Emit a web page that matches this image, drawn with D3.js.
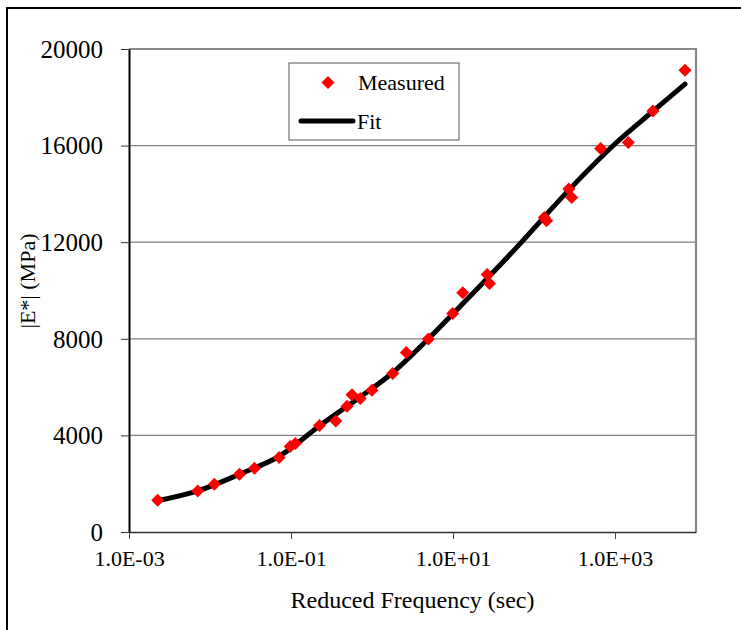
<!DOCTYPE html>
<html><head><meta charset="utf-8">
<script src="https://cdn.jsdelivr.net/npm/d3@7"></script>
</head><body style="margin:0">
<svg id="c" width="741" height="630" style="display:block;font-family:'Times New Roman',Tinos,'Liberation Serif',serif"></svg>
<script>
// Measured data: reduced frequency (sec) and |E*| (MPa)
const measuredFreq = [0.00226, 0.00706, 0.0113, 0.0231, 0.0354, 0.0714, 0.0977, 0.113, 0.225, 0.357, 0.491, 0.566, 0.716, 1.0, 1.80, 2.65, 4.97, 9.91, 13.2, 26.4, 28.2, 134, 143, 269, 292, 664, 1459, 2938, 7311];
const measuredModulus = [1313, 1699, 1976, 2391, 2639, 3082, 3538, 3662, 4408, 4595, 5208, 5684, 5527, 5871, 6563, 7433, 7996, 9048, 9910, 10664, 10291, 13020, 12890, 14198, 13846, 15884, 16133, 17430, 19116];
// Fit curve
const fitFreq = [0.00226, 0.00706, 0.0231, 0.0715, 0.2296, 0.716, 1.766, 4.97, 10.2, 26.4, 64.9, 269, 1067, 2891, 7311];
const fitModulus = [1293, 1699, 2391, 3136, 4421, 5593, 6575, 8004, 9073, 10498, 11880, 14157, 16158, 17401, 18548];
const xTicks = [1e-3, 1e-1, 1e1, 1e3];
const yTicks = [0, 4000, 8000, 12000, 16000, 20000];
const legendLabels = ["Measured", "Fit"];

const FAM = "Times New Roman";
const svg = d3.select("#c");
const L = 129, R = 696, T = 49, B = 532;
const x = d3.scaleLog().domain([1e-3, 1e4]).range([L, R]);
const y = d3.scaleLinear().domain([0, 20000]).range([B, T]);

// outer border
svg.append("rect").attr("x", 7).attr("y", 8).attr("width", 760).attr("height", 640)
  .attr("fill", "none").attr("stroke", "#000").attr("stroke-width", 2);

// gridlines
svg.append("g").selectAll("line").data(yTicks.filter(v => v > 0 && v < 20000)).join("line")
  .attr("x1", L).attr("x2", R).attr("y1", d => y(d)).attr("y2", d => y(d))
  .attr("stroke", "#808080").attr("stroke-width", 1.2);

// plot frame top/right
svg.append("path").attr("d", `M${L},${T}H${R}V${B}`).attr("fill", "none")
  .attr("stroke", "#888").attr("stroke-width", 2.2);

const fmt = v => {
  const e = Math.round(Math.log10(v));
  return "1.0E" + (e < 0 ? "-" : "+") + String(Math.abs(e)).padStart(2, "0");
};

// x axis
const xAxis = svg.append("g").attr("transform", `translate(0,${B})`)
  .call(d3.axisBottom(x).tickValues(xTicks).tickFormat(fmt).tickSize(7).tickSizeOuter(0))
  .attr("font-family", null).attr("font-size", null);
xAxis.select(".domain").attr("stroke", "#333").attr("stroke-width", 1.6);
xAxis.selectAll(".tick line").attr("stroke", "#444");
xAxis.selectAll("text").style("font-family", FAM).attr("font-size", 22).attr("fill", "#000").attr("dy", null).attr("y", 34);

// y axis
const yAxis = svg.append("g").attr("transform", `translate(${L},0)`)
  .call(d3.axisLeft(y).tickValues(yTicks).tickFormat(d3.format("d")).tickSize(8).tickSizeOuter(0))
  .attr("font-family", null).attr("font-size", null);
yAxis.select(".domain").attr("stroke", "#000").attr("stroke-width", 2);
yAxis.selectAll(".tick line").attr("stroke", "#333");
yAxis.selectAll("text").style("font-family", FAM).attr("font-size", 25).attr("fill", "#000").attr("x", -26).attr("dy", "0.33em");

// fit line
const pts = fitFreq.map((f, i) => [f, fitModulus[i]]);
svg.append("path").datum(pts)
  .attr("d", d3.line().x(d => x(d[0])).y(d => y(d[1])).curve(d3.curveCatmullRom))
  .attr("fill", "none").attr("stroke", "#000").attr("stroke-width", 5).attr("stroke-linecap", "round");

// markers
const diamond = "M0,-6.5L6.5,0L0,6.5L-6.5,0Z";
svg.append("g").selectAll("path").data(measuredFreq.map((f, i) => [f, measuredModulus[i]])).join("path")
  .attr("d", diamond).attr("transform", d => `translate(${x(d[0])},${y(d[1])})`).attr("fill", "#ff0000");

// legend
const lg = svg.append("g");
lg.append("rect").attr("x", 289).attr("y", 63).attr("width", 170).attr("height", 77)
  .attr("fill", "#fff").attr("stroke", "#555").attr("stroke-width", 1);
lg.append("path").attr("d", diamond).attr("transform", "translate(328,82.5)").attr("fill", "#ff0000");
lg.append("text").attr("x", 358).attr("y", 90).style("font-family", FAM).attr("font-size", 22).text(legendLabels[0]);
lg.append("line").attr("x1", 301).attr("x2", 353).attr("y1", 121).attr("y2", 121)
  .attr("stroke", "#000").attr("stroke-width", 5).attr("stroke-linecap", "round");
lg.append("text").attr("x", 357).attr("y", 129).style("font-family", FAM).attr("font-size", 22).text(legendLabels[1]);

// axis titles
svg.append("text").attr("x", (L + R) / 2).attr("y", 608).attr("text-anchor", "middle")
  .style("font-family", FAM).attr("font-size", 24).text("Reduced Frequency (sec)");
svg.append("text").attr("transform", "translate(35,281) rotate(-90)").attr("text-anchor", "middle")
  .style("font-family", FAM).attr("font-size", 22).text("|E*| (MPa)");
</script>
</body></html>
